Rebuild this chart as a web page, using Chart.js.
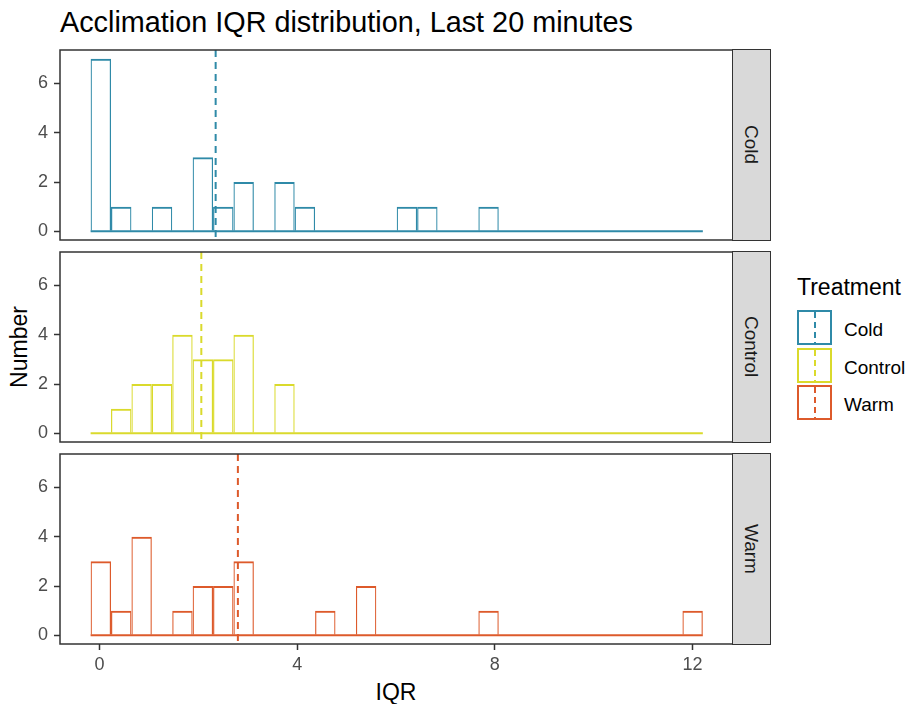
<!DOCTYPE html>
<html>
<head>
<meta charset="utf-8">
<title>Acclimation IQR distribution</title>
<script src="https://cdn.jsdelivr.net/npm/chart.js@4.4.1/dist/chart.umd.min.js"></script>
<style>
  body { margin: 0; background: #fff; font-family: "Liberation Sans", Arial, sans-serif; }
  #page { position: relative; width: 909px; height: 704px; overflow: hidden; }
  .abs { position: absolute; white-space: nowrap; line-height: 1; }
  .panel { position: absolute; left: 0; width: 733px; }
  .strip { position: absolute; left: 732px; width: 39px; background: #d9d9d9; border: 1.5px solid #333;
           box-sizing: border-box; display: flex; align-items: center; justify-content: center; }
  .strip span { writing-mode: vertical-rl; font-size: 19px; color: #1a1a1a; line-height: 1; }
  .key { position: absolute; left: 797px; width: 35px; height: 35px; box-sizing: border-box; border: 2px solid; }
  .key i { position: absolute; left: 14.5px; top: 0; width: 2px; height: 100%; }
</style>
</head>
<body>
<div id="page">
  <div class="abs" style="left:60px;top:8px;font-size:28.8px;color:#000;">Acclimation IQR distribution, Last 20 minutes</div>
  <div class="abs" style="left:19px;top:347px;font-size:23px;transform:translate(-50%,-50%) rotate(-90deg);">Number</div>
  <div class="abs" style="left:396px;top:692px;font-size:23px;transform:translate(-50%,-50%);">IQR</div>
  <div class="abs" style="left:797px;top:276px;font-size:23px;">Treatment</div>
</div>

<script>
// facets / legend entries
const treatments = ['Cold', 'Control', 'Warm'];
const colours = ['#2f8aa8', '#dada2c', '#dd5a2b'];

// histogram bin centres (30 bins, same for every facet)
const binCenters = [0.026, 0.439, 0.852, 1.265, 1.678, 2.091, 2.504, 2.917, 3.330, 3.743,
                    4.156, 4.569, 4.982, 5.395, 5.808, 6.221, 6.634, 7.047, 7.460, 7.873,
                    8.286, 8.699, 9.112, 9.525, 9.938, 10.351, 10.764, 11.177, 11.590, 12.003];

// counts per bin
const coldCounts    = [7, 1, 0, 1, 0, 3, 1, 2, 0, 2, 1, 0, 0, 0, 0, 1, 1, 0, 0, 1, 0, 0, 0, 0, 0, 0, 0, 0, 0, 0];
const controlCounts = [0, 1, 2, 2, 4, 3, 3, 4, 0, 2, 0, 0, 0, 0, 0, 0, 0, 0, 0, 0, 0, 0, 0, 0, 0, 0, 0, 0, 0, 0];
const warmCounts    = [3, 1, 4, 0, 1, 2, 2, 3, 0, 0, 0, 1, 0, 2, 0, 0, 0, 0, 0, 1, 0, 0, 0, 0, 0, 0, 0, 0, 0, 1];

// mean IQR (dashed lines)
const treatmentMeans = [2.35, 2.06, 2.8];

// tick labels
const xTicks = [0, 4, 8, 12];
const yTicks = [0, 2, 4, 6];

const allCounts = [coldCounts, controlCounts, warmCounts];
const panelTops = [50, 252, 454];
const panelH = 190;
const PAD = 18;
const FONT = '"Liberation Sans", Arial, sans-serif';

// dashed mean line + panel border
const panelDecor = {
  id: 'panelDecor',
  afterDatasetsDraw(chart, args, opts) {
    const { ctx, chartArea: a, scales } = chart;
    const px = scales.x.getPixelForValue(opts.mean);
    ctx.save();
    ctx.strokeStyle = opts.colour;
    ctx.lineWidth = 2;
    ctx.setLineDash([7, 5]);
    ctx.beginPath();
    ctx.moveTo(px, a.top);
    ctx.lineTo(px, a.bottom);
    ctx.stroke();
    ctx.setLineDash([]);
    ctx.strokeStyle = '#333';
    ctx.lineWidth = 1.5;
    ctx.strokeRect(a.left, a.top, a.right - a.left, a.bottom - a.top);
    ctx.restore();
  }
};

const page = document.getElementById('page');
const halfBin = (binCenters[1] - binCenters[0]) / 2;

treatments.forEach((name, i) => {
  const bottom = i === treatments.length - 1;
  const colour = colours[i];
  const counts = allCounts[i];

  const box = document.createElement('div');
  box.className = 'panel';
  const h = bottom ? PAD + panelH + 40 : PAD + panelH + PAD;
  box.style.top = (panelTops[i] - PAD) + 'px';
  box.style.height = h + 'px';
  const cv = document.createElement('canvas');
  cv.width = 733;
  cv.height = h;
  box.appendChild(cv);
  page.appendChild(box);

  // facet strip
  const strip = document.createElement('div');
  strip.className = 'strip';
  strip.style.top = (panelTops[i] - 0.75) + 'px';
  strip.style.height = (panelH + 1.5) + 'px';
  strip.innerHTML = '<span>' + name + '</span>';
  page.appendChild(strip);

  // legend row
  const key = document.createElement('div');
  key.className = 'key';
  key.style.top = (310 + i * 37.7) + 'px';
  key.style.borderColor = colour;
  key.innerHTML = '<i style="background:repeating-linear-gradient(to bottom,' + colour + ' 0 6px,transparent 6px 10px)"></i>';
  page.appendChild(key);
  const lab = document.createElement('div');
  lab.className = 'abs';
  lab.style.left = '844px';
  lab.style.top = (320 + i * 37.7) + 'px';
  lab.style.fontSize = '19px';
  lab.textContent = name;
  page.appendChild(lab);

  new Chart(cv, {
    type: 'bar',
    data: {
      datasets: [
        {
          type: 'bar',
          data: binCenters.map((x, k) => ({ x: x, y: counts[k] })),
          backgroundColor: 'rgba(0,0,0,0)',
          borderColor: colour,
          borderWidth: { top: 2, left: 1.2, right: 1.2, bottom: 0 },
          borderSkipped: false,
          barPercentage: 1,
          categoryPercentage: 1,
          inflateAmount: 0,
          order: 1
        },
        {
          type: 'line',
          data: [
            { x: binCenters[0] - halfBin, y: 0 },
            { x: binCenters[binCenters.length - 1] + halfBin, y: 0 }
          ],
          borderColor: colour,
          borderWidth: 2,
          pointRadius: 0,
          order: 0
        }
      ]
    },
    options: {
      responsive: false,
      animation: false,
      devicePixelRatio: 1,
      layout: { padding: { top: PAD, bottom: bottom ? 0 : PAD, left: 0, right: 0 } },
      plugins: {
        legend: { display: false },
        tooltip: { enabled: false },
        panelDecor: { mean: treatmentMeans[i], colour: colour }
      },
      scales: {
        x: {
          type: 'linear',
          min: -0.8,
          max: 12.82,
          offset: false,
          display: bottom,
          afterBuildTicks: s => { s.ticks = xTicks.map(v => ({ value: v })); },
          afterFit: s => { if (bottom) s.height = 40; },
          grid: { offset: false, drawOnChartArea: false, tickLength: 6, tickColor: '#333', tickWidth: 1.5 },
          border: { display: false },
          ticks: { color: '#4d4d4d', font: { size: 18, family: FONT }, padding: 4, maxRotation: 0, autoSkip: false }
        },
        y: {
          type: 'linear',
          min: -0.35,
          max: 7.35,
          afterBuildTicks: s => { s.ticks = yTicks.map(v => ({ value: v })); },
          afterFit: s => { s.width = 60; },
          grid: { drawOnChartArea: false, tickLength: 6, tickColor: '#333', tickWidth: 1.5 },
          border: { display: false },
          ticks: { color: '#4d4d4d', font: { size: 18, family: FONT }, padding: 6 }
        }
      }
    },
    plugins: [panelDecor]
  });
});
</script>
</body>
</html>
